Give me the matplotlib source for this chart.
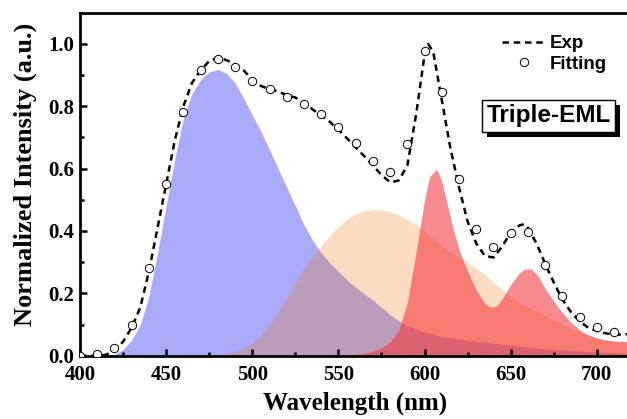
import matplotlib.pyplot as plt
import matplotlib.patheffects as pe
from matplotlib.ticker import MultipleLocator

# experimental EL spectrum (dashed line)
exp_wl = [400, 405, 410, 415, 420, 425, 430, 435, 440, 445, 450, 455, 460, 465, 470, 475, 480,
          485, 490, 495, 500, 505, 510, 515, 520, 525, 530, 535, 540, 545, 550, 555, 560, 565,
          570, 575, 580, 585, 590, 595, 600, 602, 605, 610, 615, 620, 625, 630, 635, 640, 645,
          650, 655, 658, 660, 665, 670, 675, 680, 685, 690, 695, 700, 705, 710, 715, 720]
exp_int = [0, 0, 0, 0.003, 0.017, 0.045, 0.09, 0.155, 0.27, 0.41, 0.55, 0.69, 0.8, 0.875, 0.915,
           0.945, 0.955, 0.948, 0.935, 0.915, 0.885, 0.865, 0.855, 0.848, 0.835, 0.828, 0.81,
           0.79, 0.77, 0.75, 0.725, 0.697, 0.668, 0.64, 0.61, 0.58, 0.556, 0.562, 0.61, 0.77,
           0.965, 1.0, 0.975, 0.82, 0.665, 0.54, 0.43, 0.36, 0.32, 0.315, 0.35, 0.395, 0.418,
           0.422, 0.41, 0.36, 0.295, 0.235, 0.18, 0.14, 0.11, 0.09, 0.08, 0.072, 0.068, 0.068, 0.07]

# fitting (open circles)
fit_wl = list(range(400, 730, 10))
fit_int = [0.0, 0.005, 0.025, 0.10, 0.28, 0.55, 0.78, 0.915, 0.95, 0.925, 0.88, 0.854, 0.831,
           0.808, 0.776, 0.733, 0.683, 0.624, 0.588, 0.68, 0.977, 0.847, 0.568, 0.406, 0.348,
           0.393, 0.397, 0.292, 0.19, 0.123, 0.091, 0.077, 0.07]

# blue component
blue_wl = [415, 420, 425, 430, 435, 440, 445, 450, 455, 460, 465, 470, 475, 480, 485, 490, 495,
           500, 505, 510, 515, 520, 525, 530, 535, 540, 545, 550, 555, 560, 565, 570, 575, 580,
           585, 590, 600, 610, 620, 630, 640, 650, 660, 670, 680, 690, 700, 710, 718]
blue_int = [0, 0.004, 0.02, 0.05, 0.1, 0.19, 0.33, 0.48, 0.63, 0.76, 0.84, 0.885, 0.91, 0.918,
            0.905, 0.875, 0.825, 0.772, 0.72, 0.66, 0.6, 0.54, 0.48, 0.42, 0.37, 0.33, 0.298,
            0.27, 0.243, 0.22, 0.198, 0.178, 0.155, 0.132, 0.112, 0.096, 0.075, 0.062, 0.053,
            0.046, 0.04, 0.034, 0.028, 0.022, 0.018, 0.015, 0.012, 0.01, 0.008]

# yellow/orange component
org_wl = [470, 480, 490, 500, 505, 510, 515, 520, 525, 530, 535, 540, 545, 550, 555, 560, 565,
          570, 575, 580, 585, 590, 595, 600, 605, 610, 615, 620, 625, 630, 635, 640, 645, 650,
          655, 660, 665, 670, 675, 680, 685, 690, 695, 700, 705, 710, 718]
org_int = [0, 0.003, 0.012, 0.04, 0.065, 0.1, 0.14, 0.185, 0.235, 0.28, 0.318, 0.35, 0.385,
           0.414, 0.438, 0.455, 0.464, 0.468, 0.467, 0.462, 0.452, 0.437, 0.42, 0.4, 0.375, 0.352,
           0.332, 0.315, 0.3, 0.28, 0.26, 0.235, 0.212, 0.19, 0.171, 0.156, 0.144, 0.13, 0.115,
           0.1, 0.088, 0.075, 0.065, 0.056, 0.05, 0.046, 0.043]

# red component
red_wl = [550, 560, 565, 570, 575, 580, 585, 590, 595, 600, 603, 607, 610, 613, 616, 620, 625,
          630, 635, 638, 642, 646, 650, 655, 658, 662, 666, 670, 675, 680, 685, 690, 695, 700,
          705, 710, 718]
red_int = [0, 0.004, 0.008, 0.015, 0.025, 0.045, 0.08, 0.17, 0.33, 0.5, 0.575, 0.598, 0.56,
           0.49, 0.42, 0.34, 0.27, 0.21, 0.168, 0.155, 0.16, 0.19, 0.228, 0.265, 0.278, 0.278,
           0.255, 0.215, 0.175, 0.137, 0.107, 0.083, 0.067, 0.057, 0.05, 0.047, 0.045]

ticks_y = [0.0, 0.2, 0.4, 0.6, 0.8, 1.0]
ticks_y_lab = ['0.0', '0.2', '0.4', '0.6', '0.8', '1.0']

fig = plt.figure(figsize=(6.27, 4.19), dpi=100)
ax = fig.add_axes([0.1276, 0.151, 0.8724, 0.8187])

ax.fill_between(blue_wl, blue_int, color='#2a2df0', alpha=0.4, lw=0)
ax.fill_between(org_wl, org_int, color='#f47404', alpha=0.25, lw=0)
ax.fill_between(red_wl, red_int, color='#f33c3f', alpha=0.6, lw=0)

ax.plot(exp_wl, exp_int, color='black', lw=1.8, dashes=(2.6, 1.9), label='Exp', zorder=3)
ax.plot(fit_wl, fit_int, 'o', ms=6, mfc='white', mec='black', mew=0.7, label='Fitting', zorder=4)

ax.set_xlim(400, 717.5)
ax.set_ylim(0, 1.1)
ax.xaxis.set_major_locator(MultipleLocator(50))
ax.xaxis.set_minor_locator(MultipleLocator(25))
ax.set_yticks(ticks_y)
ax.set_yticklabels(ticks_y_lab)
ax.yaxis.set_minor_locator(MultipleLocator(0.1))
ax.tick_params(which='both', direction='in', width=1.8, top=False, right=False)
ax.tick_params(which='major', length=5)
ax.tick_params(which='minor', length=3)
ax.tick_params(axis='x', pad=7)
ax.tick_params(axis='y', pad=4)
for s in ['left', 'bottom', 'top']:
    ax.spines[s].set_linewidth(2)
ax.spines['right'].set_visible(False)

for lab in ax.get_xticklabels() + ax.get_yticklabels():
    lab.set_fontfamily('Liberation Serif')
    lab.set_fontweight('bold')
    lab.set_fontsize(15)

ax.set_xlabel('Wavelength (nm)', fontfamily='Liberation Serif', fontweight='bold', fontsize=18)
ax.set_ylabel('Normalized Intensity (a.u.)', fontfamily='Liberation Serif', fontweight='bold',
              fontsize=19)
ax.xaxis.set_label_coords(0.503, -0.104)
ax.yaxis.set_label_coords(-0.079, 0.53)

leg = ax.legend(loc='upper left', bbox_to_anchor=(0.771, 0.935), frameon=False,
                borderaxespad=0, borderpad=0,
                prop={'family': 'Liberation Sans', 'weight': 'bold', 'size': 13.5},
                handlelength=2.4, handletextpad=0.15, labelspacing=0.2)

t = ax.text(0.857, 0.699, 'Triple-EML', transform=ax.transAxes, ha='center', va='center',
            fontfamily='Liberation Sans', fontweight='bold', fontsize=17.5,
            bbox=dict(boxstyle='square,pad=0.18', fc='white', ec='black', lw=1))
t.get_bbox_patch().set_path_effects([
    pe.SimplePatchShadow(offset=(3.5, -3.5), shadow_rgbFace='black', alpha=1), pe.Normal()])

plt.savefig('out.png', dpi=100)
